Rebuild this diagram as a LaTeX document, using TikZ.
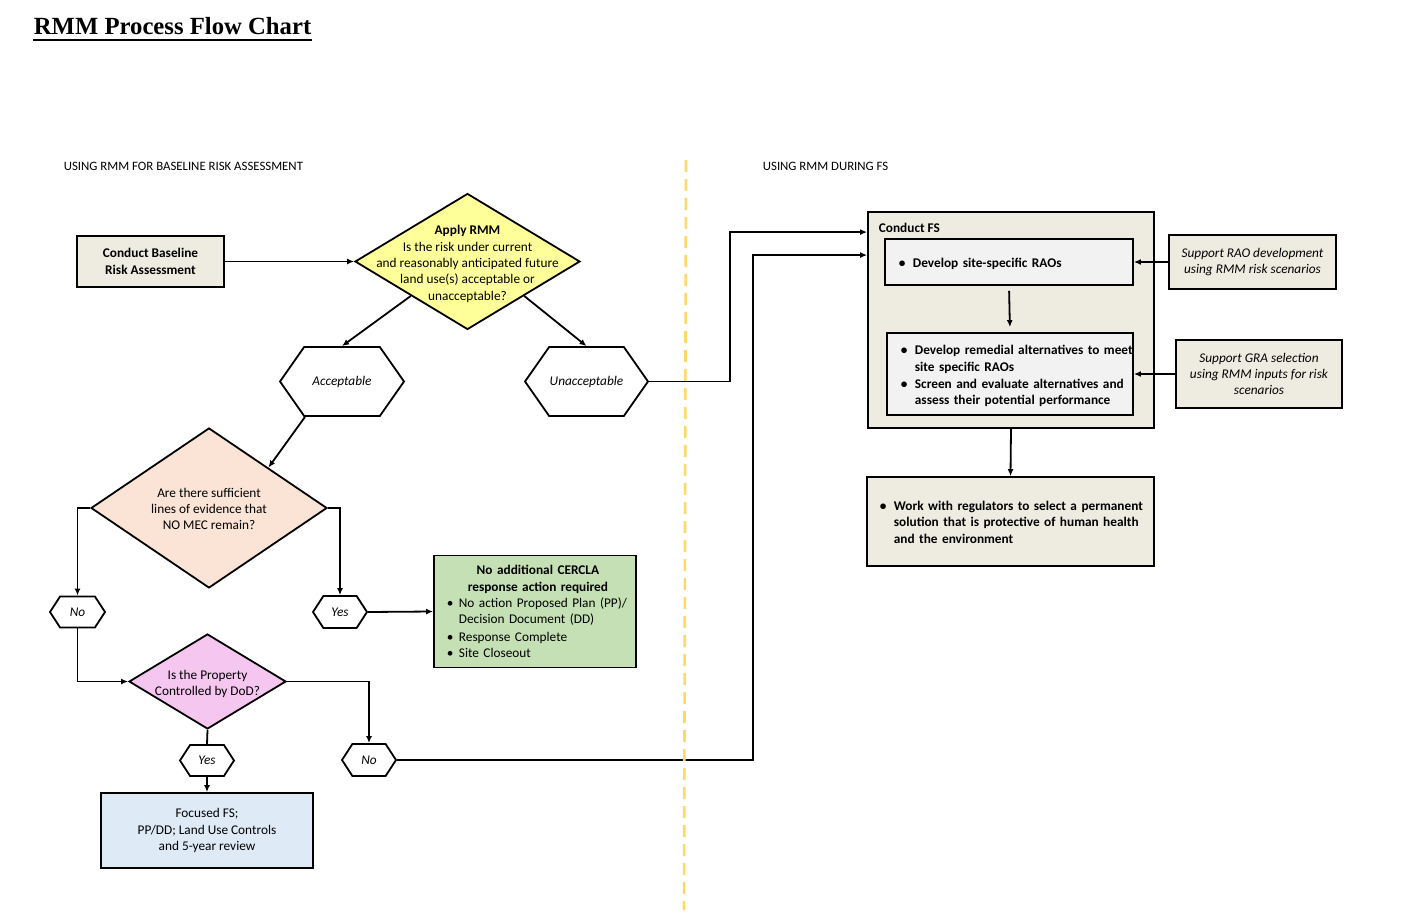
\documentclass[tikz,border=0pt]{standalone}
\usepackage{fontspec}
\setmainfont{Carlito}
\newfontfamily\titlefont{Liberation Serif}
\usetikzlibrary{shapes.geometric,shapes.symbols,arrows.meta,calc}
\definecolor{beige}{HTML}{EEECE1}
\definecolor{applyyellow}{HTML}{FFFF99}
\definecolor{peach}{HTML}{FBE4D5}
\definecolor{okgreen}{HTML}{C5E0B4}
\definecolor{dodpink}{HTML}{F5C6F0}
\definecolor{fsblue}{HTML}{DEEBF7}
\definecolor{innergray}{HTML}{F2F2F2}
\definecolor{divider}{HTML}{FFD966}
\newcommand{\Item}[2][14pt]{\par\noindent\makebox[#1][l]{\textbullet}\begin{tabular}[t]{@{}l@{}}#2\end{tabular}}
\begin{document}
\begin{tikzpicture}[x=1pt,y=-1pt,line width=1.8pt,
  txt/.style={font=\fontsize{13.3}{16.3}\selectfont},
  box/.style={draw,txt,inner sep=0pt,align=center},
  dia/.style={diamond,draw,inner sep=0pt},
  hexa/.style={signal,signal to=west and east,signal pointer angle=110,draw,inner sep=0pt,txt,font=\fontsize{13.3}{16.3}\selectfont\itshape},
  arr/.style={-{Latex[length=7pt,width=6pt]}}]
\useasboundingbox[fill=white](0,0) rectangle (1406,920);
% title and headings
\node[anchor=base west,inner sep=0pt,font=\titlefont\bfseries\fontsize{24.7}{28}\selectfont] (title) at (33,35) {RMM Process Flow Chart};
\draw[line width=2.6pt] ($(title.south west)+(0,4)$) -- ($(title.south east)+(0,4)$);
\node[anchor=west,inner sep=0pt,font=\fontsize{12.8}{15}\selectfont] (headl) at (63,166) {USING RMM FOR BASELINE RISK ASSESSMENT};
\node[anchor=west,inner sep=0pt,font=\fontsize{12.8}{15}\selectfont] (headr) at (762,166) {USING RMM DURING FS};
% baseline side
\node[box,fill=beige,minimum width=147,minimum height=51,font=\fontsize{13.3}{16.3}\selectfont\bfseries] (base) at (150.5,261.5) {Conduct Baseline\\Risk Assessment};
\node[dia,fill=applyyellow,minimum width=225,minimum height=136] (apply) at (467.5,261.5) {};
\node[txt,align=center,yshift=-2.5pt] (applytxt) at (apply) {\textbf{Apply RMM}\\Is the risk under current\\and reasonably anticipated future\\land use(s) acceptable or\\unacceptable?};
\node[hexa,minimum width=124,minimum height=69] (acc) at (342,381.5) {Acceptable};
\node[hexa,minimum width=123,minimum height=69] (unacc) at (586.5,381.5) {Unacceptable};
\node[dia,fill=peach,minimum width=236,minimum height=160] (evid) at (209,508) {};
\node[txt,align=center,yshift=-1pt] (evidtxt) at (evid) {Are there sufficient\\lines of evidence that\\NO MEC remain?};
\node[hexa,signal pointer angle=114,minimum width=55,minimum height=31] (no1) at (77.5,612) {No};
\node[hexa,signal pointer angle=114,minimum width=54,minimum height=32] (yes1) at (340,612) {Yes};
\node[box,fill=okgreen,minimum width=202,minimum height=112] (close) at (535,611.5) {};
\node[anchor=west,inner sep=0pt,txt,text width=182,align=left] (closetxt) at (446,614) {{\centering\bfseries No additional CERCLA\\response action required\par}\Item[12pt]{No action Proposed Plan (PP)/\\Decision Document (DD)}\Item[12pt]{Response Complete}\Item[12pt]{Site Closeout}};
\node[dia,fill=dodpink,minimum width=157,minimum height=95] (prop) at (207.5,681.5) {};
\node[txt,align=center,yshift=-2.5pt] (proptxt) at (prop) {Is the Property\\Controlled by DoD?};
\node[hexa,signal pointer angle=114,minimum width=54,minimum height=31] (yes2) at (207,760.5) {Yes};
\node[hexa,signal pointer angle=114,minimum width=54,minimum height=32] (no2) at (369,760) {No};
\node[box,fill=fsblue,minimum width=212,minimum height=75] (focus) at (207,830.5) {Focused FS;\\PP/DD; Land Use Controls\\and 5-year review};
% FS side
\node[box,fill=beige,minimum width=286,minimum height=216] (fs) at (1011,320) {};
\node[anchor=west,txt,font=\fontsize{13.3}{16.3}\selectfont\bfseries,inner sep=0pt] (fstitle) at (878,228) {Conduct FS};
\node[box,fill=innergray,minimum width=248,minimum height=46] (rao) at (1009,262) {};
\node[anchor=west,inner sep=0pt,txt,font=\fontsize{13.3}{16.3}\selectfont\bfseries,text width=230,align=left] (raotxt) at (898,262) {\Item[14pt]{Develop site-specific RAOs}};
\node[box,fill=innergray,minimum width=246,minimum height=82] (alt) at (1010,374) {};
\node[anchor=west,inner sep=0pt,txt,font=\fontsize{13.3}{16.3}\selectfont\bfseries,text width=240,align=left] (alttxt) at (900,374) {\Item{Develop remedial alternatives to meet\\site specific RAOs}\Item{Screen and evaluate alternatives and\\assess their potential performance}};
\node[box,fill=beige,minimum width=287,minimum height=89] (work) at (1010.5,521.5) {};
\node[anchor=west,inner sep=0pt,txt,font=\fontsize{13.3}{16.3}\selectfont\bfseries,text width=270,align=left] (worktxt) at (879,521) {\Item{Work with regulators to select a permanent\\solution that is protective of human health\\and the environment}};
\node[box,fill=beige,minimum width=167,minimum height=54,font=\fontsize{13.3}{16.3}\selectfont\itshape] (suprao) at (1252.5,262) {Support RAO development\\using RMM risk scenarios};
\node[box,fill=beige,minimum width=166,minimum height=68,font=\fontsize{13.3}{16.3}\selectfont\itshape] (supgra) at (1259,374) {Support GRA selection\\using RMM inputs for risk\\scenarios};
\coordinate (fsin1) at ($(fs.north west)+(0,21)$);
\coordinate (fsin2) at ($(fs.north west)+(0,44)$);
% connectors
\draw[arr] (base.east) -- (apply.west);
\draw[arr] ($(apply.west)!.5!(apply.south)$) -- (acc.north);
\draw[arr] ($(apply.east)!.5!(apply.south)$) -- (unacc.north);
\draw[arr] ($(acc.south)+(-37,0)$) -- ($(evid.north)!.5!(evid.east)$);
\draw[arr] (evid.west) -| (no1.north);
\draw[arr] (evid.east) -| (yes1.north);
\draw[arr] (yes1.east) -- (close.west);
\draw[arr] (no1.south) |- (prop.west);
\draw (prop.south) -- (yes2.north);
\draw[arr] (yes2.south) -- (focus.north);
\draw[arr] (prop.east) -| (no2.north);
\draw[arr] (unacc.east) -- ++(81,0) |- (fsin1);
\draw[arr] (no2.east) -- ++(356,0) |- (fsin2);
\draw[arr,shorten <=5pt,shorten >=5pt] (rao.south) -- (alt.north);
\draw[arr] (suprao.west) -- (rao.east);
\draw[arr] (supgra.west) -- (alt.east);
\draw[arr] (fs.south) -- (work.north);
% divider
\draw[divider,line width=2.6pt,dash pattern=on 12pt off 7pt] (686,160) -- (684,910);
\end{tikzpicture}
\end{document}
